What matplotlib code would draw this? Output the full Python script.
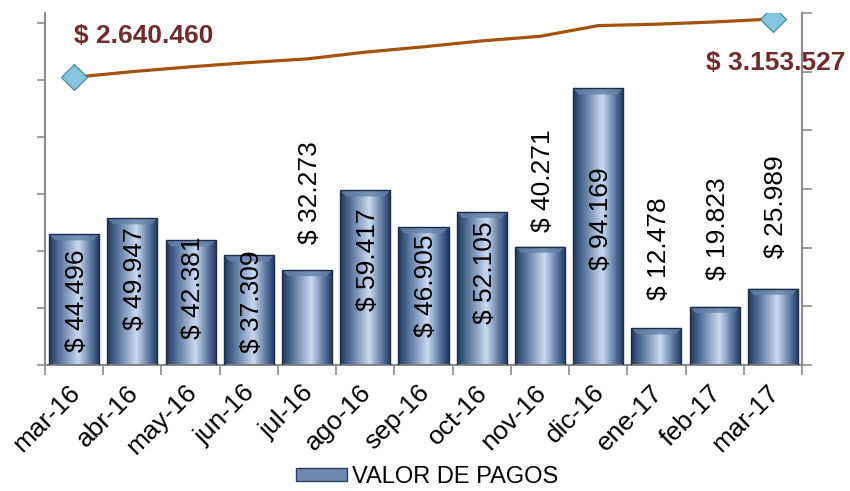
import matplotlib
matplotlib.use("Agg")
import matplotlib.pyplot as plt
import numpy as np
from matplotlib.colors import LinearSegmentedColormap
from matplotlib.patches import Patch, Polygon
from matplotlib.transforms import ScaledTranslation

plt.rcParams['font.family'] = ['Liberation Sans', 'DejaVu Sans']

months = ['mar-16', 'abr-16', 'may-16', 'jun-16', 'jul-16', 'ago-16', 'sep-16',
          'oct-16', 'nov-16', 'dic-16', 'ene-17', 'feb-17', 'mar-17']
pagos = [44496, 49947, 42381, 37309, 32273, 59417, 46905,
         52105, 40271, 94169, 12478, 19823, 25989]
acumulado = [2640460, 2690407, 2732788, 2770097, 2802370, 2861787, 2908692,
             2960797, 3001068, 3095237, 3107715, 3127538, 3153527]

# where each value label sits (left axis units)
label_y = [22000, 29400, 26400, 21600, 58700, 35700, 26900,
           31500, 62800, 49700, 39500, 46500, 54000]

def money(v):
    return '$ ' + f'{v:,}'.replace(',', '.')

fig = plt.figure(figsize=(8.5, 4.91), dpi=100)
ax = fig.add_axes([45/850, 1-365/491, 757/850, 352/491])
ax2 = ax.twinx()
ax2.set_position(ax.get_position())

x = np.arange(len(months))
bars = ax.bar(x, pagos, width=0.86, color='#5E7BA4', edgecolor='none', zorder=1)

# gradient fill clipped to every bar
cmap = LinearSegmentedColormap.from_list(
    'bev', [(0, '#22395C'), (0.15, '#48638C'), (0.58, '#CADAF3'),
            (0.86, '#506B95'), (1, '#22395C')])
uu = np.linspace(0, 1, 60)
grad = np.tile(uu, (40, 1))
for b in bars:
    x0, w, h = b.get_x(), b.get_width(), b.get_height()
    im = ax.imshow(grad, extent=(x0, x0 + w, 0, h), aspect='auto', cmap=cmap,
                   origin='lower', zorder=2, interpolation='bicubic')
    im.set_clip_path(b)
    bev = 6 * 340.4
    top = Polygon([(x0, h), (x0 + w, h), (x0 + w - 0.1, h - bev), (x0 + 0.1, h - bev)],
                  closed=True, facecolor='#6680A8', edgecolor='none', alpha=0.8, zorder=3)
    ax.add_patch(top)
ax.bar(x, pagos, width=0.86, fill=False, edgecolor='#1B2E4A', linewidth=1.0, zorder=4)

for i, v in enumerate(pagos):
    ax.text(x[i] + 0.05, label_y[i], money(v), rotation=90, ha='center', va='center',
            fontsize=19, color='black', zorder=5)

ax.set_xlim(-0.5, len(months) - 0.5)
ax.set_ylim(0, 352 * 340.4)
ax.set_yticks(np.arange(0, 7) * 19400)
ax.tick_params(axis='y', labelleft=False, length=6, width=1.2, color='#8C8C8C')
ax.set_xticks(x)
ax.set_xticklabels(months, rotation=45, ha='right', va='top', rotation_mode='anchor',
                   fontsize=19)
ax.tick_params(axis='x', which='major', length=0, pad=11)
shift = ScaledTranslation(-6/100, 0, fig.dpi_scale_trans)
for lbl in ax.get_xticklabels():
    lbl.set_transform(lbl.get_transform() + shift)
ax.set_xticks(np.arange(-0.5, len(months), 1), minor=True)
ax.tick_params(axis='x', which='minor', length=7, width=1.2, color='#8C8C8C')

# cumulative line on right axis
ax2.plot(x, acumulado, color='#A5520D', linewidth=2.3, zorder=6,
         marker='D', markevery=[0, len(x) - 1], markersize=13,
         markerfacecolor='#86C5DE', markeredgecolor='#3F7F99', markeredgewidth=0.8)
lo, hi = 108554, 3206330
ax2.set_ylim(lo, hi)
ax2.set_yticks(np.linspace(lo, hi, 7))
ax2.tick_params(axis='y', labelright=False, length=7, width=1.2, color='#8C8C8C')

ax2.annotate(money(acumulado[0]), (x[0], acumulado[0]), xytext=(70, 41),
             textcoords='offset pixels', ha='center', va='center',
             fontsize=19, fontweight='bold', color='#722B2B')
ax2.annotate(money(acumulado[-1]), (x[-1], acumulado[-1]), xytext=(3, -44),
             textcoords='offset pixels', ha='center', va='center',
             fontsize=19, fontweight='bold', color='#722B2B', annotation_clip=False)

for a in (ax, ax2):
    a.spines['top'].set_visible(False)
    for s in ('left', 'right', 'bottom'):
        a.spines[s].set_color('#8C8C8C')
        a.spines[s].set_linewidth(1.5)
ax.spines['right'].set_visible(False)
ax2.spines['left'].set_visible(False)
ax2.spines['bottom'].set_visible(False)

fig.legend(handles=[Patch(facecolor='#6F88AE', edgecolor='#2B4163')],
           labels=['VALOR DE PAGOS'], loc='center', bbox_to_anchor=(427/850, 1-477/491),
           frameon=False, fontsize=17, handlelength=2.2, handleheight=0.45,
           handletextpad=0.2)

fig.savefig('out.png', dpi=100)
